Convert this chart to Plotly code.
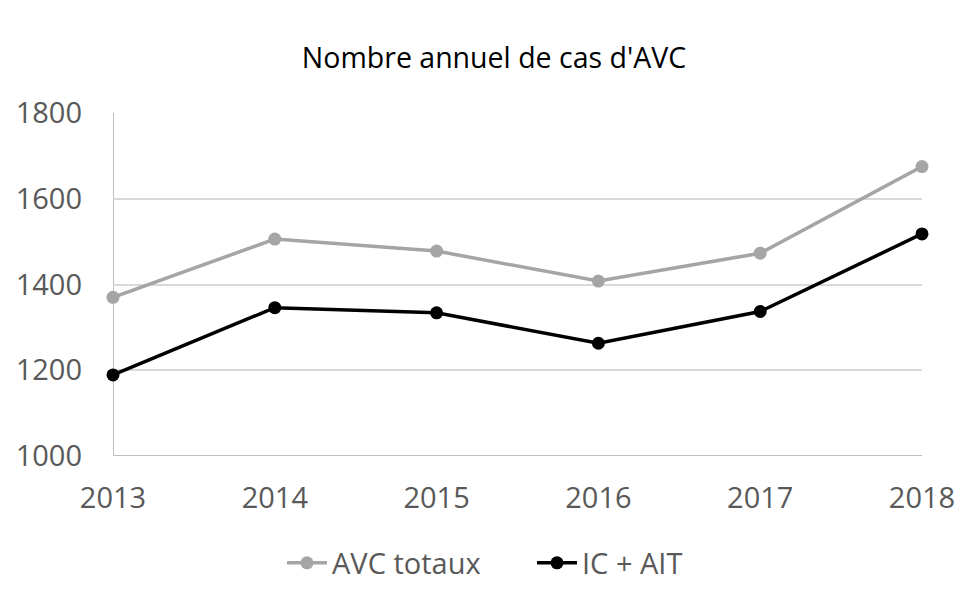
import plotly.graph_objects as go

years = [2013, 2014, 2015, 2016, 2017, 2018]
avc_totaux = [1370, 1506, 1478, 1408, 1473, 1675]
ic_ait = [1189, 1346, 1334, 1263, 1337, 1518]
y_ticks = [1000, 1200, 1400, 1600, 1800]

FONT = "Open Sans"
W, H = 975, 596
L, R, T, B = 113, 53, 113, 140
PW, PH = W - L - R, H - T - B

fig = go.Figure()
fig.add_trace(go.Scatter(
    x=years, y=avc_totaux, name="AVC totaux", mode="lines+markers",
    line=dict(color="#a5a5a5", width=3.5),
    marker=dict(color="#a5a5a5", size=13),
    cliponaxis=False,
))
fig.add_trace(go.Scatter(
    x=years, y=ic_ait, name="IC + AIT", mode="lines+markers",
    line=dict(color="#000000", width=3.5),
    marker=dict(color="#000000", size=13),
    cliponaxis=False,
))

fig.update_layout(
    width=W, height=H,
    margin=dict(l=L, r=R, t=T, b=B, autoexpand=False),
    paper_bgcolor="white", plot_bgcolor="white",
    font=dict(family=FONT, color="#595959"),
    title=dict(text="Nombre annuel de cas d'AVC", x=494 / W, xanchor="center",
               y=1 - 58 / H, yanchor="middle",
               font=dict(family=FONT, size=28.5, color="#000000")),
    showlegend=True,
    legend=dict(orientation="h", x=(282 - L) / PW, xanchor="left",
                y=(456 - 563) / PH, yanchor="middle",
                font=dict(family=FONT, size=29, color="#595959"),
                itemwidth=40, entrywidth=195, tracegroupgap=0),
    xaxis=dict(range=[2013, 2018], tickvals=years, ticktext=[str(y) for y in years],
               showgrid=False, zeroline=False, showline=False, automargin=False,
               ticks="", ticklabelstandoff=22, tickfont=dict(size=29, color="#595959"),
               fixedrange=True),
    yaxis=dict(range=[1000, 1800], tickvals=y_ticks, automargin=False,
               showgrid=True, gridcolor="#d9d9d9", gridwidth=2,
               zeroline=False, showline=False,
               ticks="", ticklabelstandoff=30, tickfont=dict(size=29, color="#595959"),
               fixedrange=True),
)

# axis lines: vertical left axis and bottom baseline (Excel style)
fig.add_shape(type="line", xref="x", yref="paper", x0=2013, x1=2013, y0=0, y1=1,
              line=dict(color="#bfbfbf", width=2), layer="below")
fig.add_shape(type="line", xref="paper", yref="y", x0=0, x1=1, y0=1000, y1=1000,
              line=dict(color="#bfbfbf", width=2), layer="below")

fig.write_html("out.html",
               config={"displayModeBar": False, "staticPlot": True},
               post_script="document.body.style.margin='0';document.body.style.overflow='hidden';")
